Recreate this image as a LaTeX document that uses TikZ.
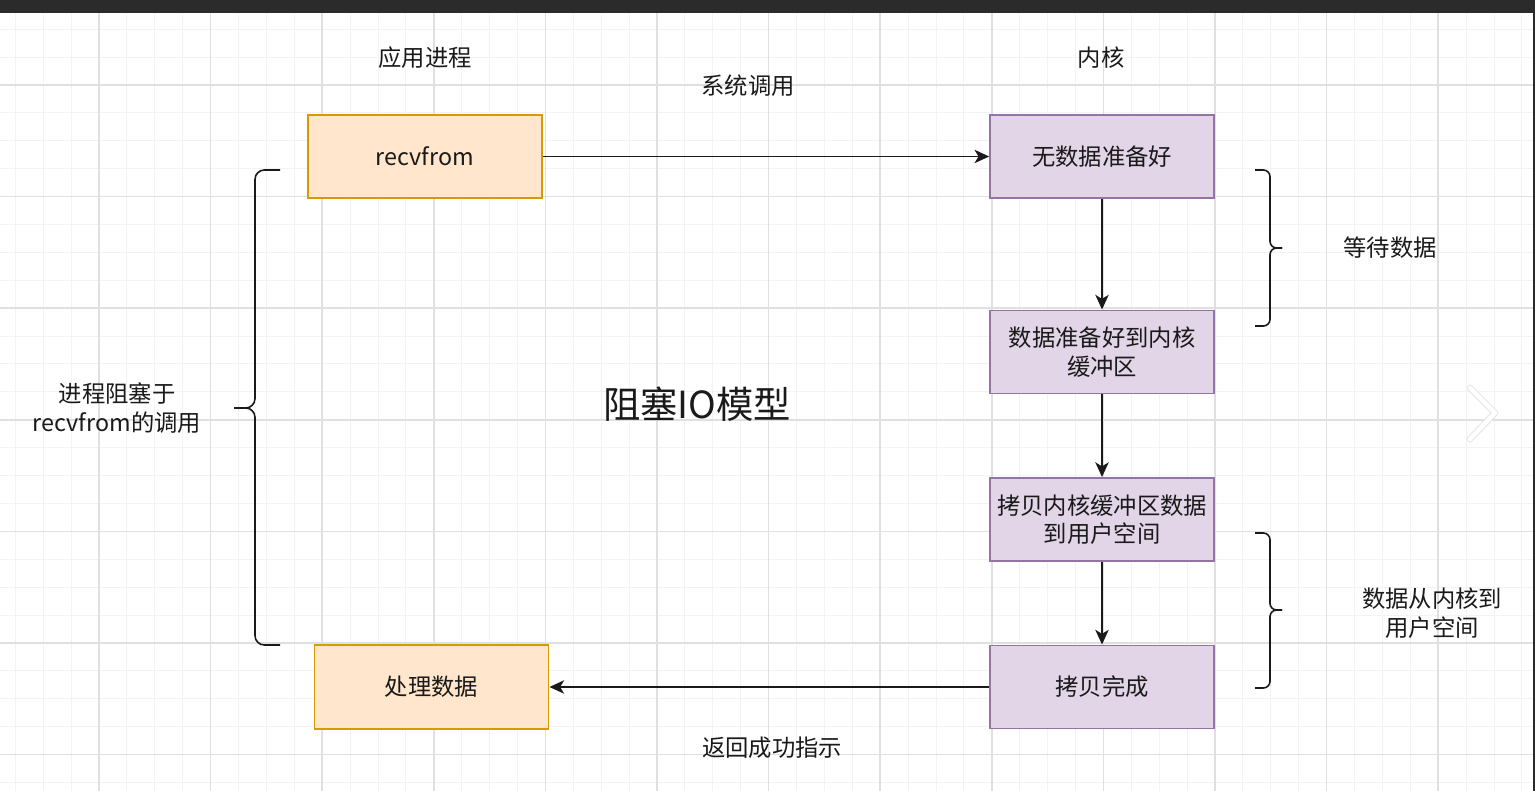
\documentclass[tikz,border=0pt]{standalone}
\usepackage{fontspec}
\setmainfont{Noto Sans CJK SC}
\usepackage{xcolor}
\usetikzlibrary{arrows.meta, positioning}

\definecolor{appfill}{HTML}{FFE6CC}
\definecolor{appline}{HTML}{D79B00}
\definecolor{kernfill}{HTML}{E1D5E7}
\definecolor{kernline}{HTML}{9673A6}
\definecolor{gridminor}{HTML}{F3F3F3}
\definecolor{gridmajor}{HTML}{E0E0E0}
\definecolor{topbar}{HTML}{2B2B2B}
\definecolor{ink}{HTML}{1A1A1A}

\begin{document}
\begin{tikzpicture}[
    x=0.75pt, y=-0.75pt,
    font=\fontsize{17.5}{21.5}\selectfont,
    text=ink,
    appbox/.style={rectangle, align=center, inner sep=2pt,
                   minimum width=175.5pt, minimum height=62.5pt,
                   fill=appfill, draw=appline, line width=1.4pt},
    kernbox/.style={rectangle, align=center, inner sep=2pt,
                    minimum width=168pt, minimum height=62.5pt,
                    fill=kernfill, draw=kernline, line width=1.2pt},
    arr/.style={-{Stealth[length=11pt, width=10pt, inset=3pt]},
                line width=1.4pt, draw=ink},
    bracket/.style={line width=1.2pt, draw=ink, rounded corners=#1},
    lbl/.style={align=center}
]
\useasboundingbox (0,0) rectangle (1535,791);

% canvas and grid
\fill[white] (0,0) rectangle (1535,791);
\foreach \i in {-3,...,51}
    \draw[gridminor, line width=0.75pt] (99+27.9*\i,13) -- (99+27.9*\i,791);
\foreach \j in {-2,...,25}
    \draw[gridminor, line width=0.75pt] (0,85+27.9*\j) -- (1533,85+27.9*\j);
\foreach \k in {0,...,12}
    \draw[gridmajor, line width=1.1pt] (99+111.6*\k,13) -- (99+111.6*\k,791);
\foreach \k in {0,...,6}
    \draw[gridmajor, line width=1.1pt] (0,85+111.6*\k) -- (1533,85+111.6*\k);
\fill[topbar] (0,0) rectangle (1535,13);
\fill[topbar] (1533,13) rectangle (1535,791);

% application side
\node[lbl] (applbl) at (425,58) {应用进程};
\node[appbox] (recv) at (425,156.5) {recvfrom};
\node[appbox] (handle) at (431.5,687) {处理数据};

% kernel side
\node[lbl] (kernlbl) at (1101,58) {内核};
\node[kernbox] (nodata) at (1102,156.5) {无数据准备好};
\node[kernbox] (ready) at (1102,352) {数据准备好到内核\\缓冲区};
\node[kernbox] (copy) at (1102,519.5) {拷贝内核缓冲区数据\\到用户空间};
\node[kernbox] (done) at (1102,687) {拷贝完成};

% labels
\node[lbl] (syscall) at (748,86) {系统调用};
\node[lbl] (ret) at (772,748) {返回成功指示};
\node[lbl, font=\fontsize{28}{32}\selectfont] (title) at (697,404) {阻塞IO模型};
\node[lbl] (blocked) at (117,408) {进程阻塞于\\recvfrom的调用};
\node[lbl] (wait) at (1390,248) {等待数据};
\node[lbl] (copylbl) at (1432,613) {数据从内核到\\用户空间};

% connectors
\draw[arr] (recv) -- (nodata);
\draw[arr] (nodata) -- (ready);
\draw[arr] (ready) -- (copy);
\draw[arr] (copy) -- (done);
\draw[arr] (done) -- (handle);

% braces
\draw[bracket=7pt] (280,170) -- (255,170) -- (255,408) -- (234,408);
\draw[bracket=7pt] (234,408) -- (255,408) -- (255,645) -- (280,645);
\draw[bracket=5pt] (1255,170) -- (1270,170) -- (1270,248) -- (1282,248);
\draw[bracket=5pt] (1282,248) -- (1270,248) -- (1270,326) -- (1255,326);
\draw[bracket=5pt] (1255,533) -- (1270,533) -- (1270,610) -- (1282,610);
\draw[bracket=5pt] (1282,610) -- (1270,610) -- (1270,688) -- (1255,688);

% page arrow
\draw[gray!18, line width=5pt, line cap=round, line join=round]
    (1470,388) -- (1495,413) -- (1470,439);
\draw[white, line width=3.2pt, line cap=round, line join=round]
    (1470,388) -- (1495,413) -- (1470,439);
\end{tikzpicture}
\end{document}
